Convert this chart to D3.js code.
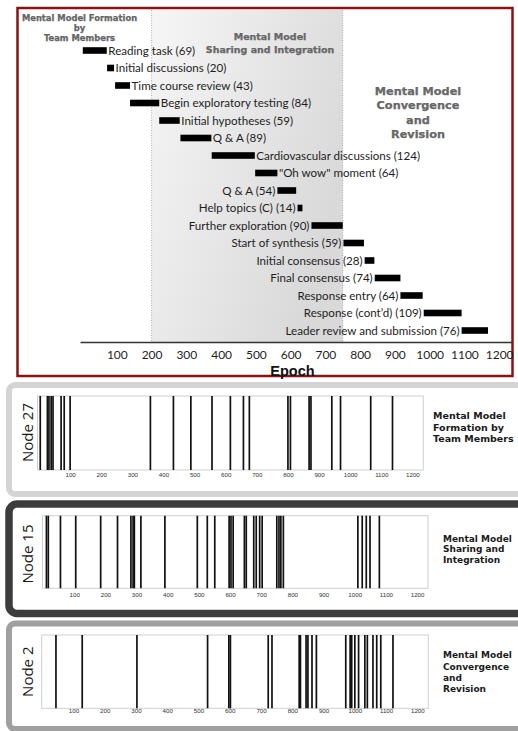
<!DOCTYPE html>
<html><head><meta charset="utf-8">
<script src="https://cdn.jsdelivr.net/npm/d3@7"></script>
<style>body{margin:0;background:#fff}svg{display:block}</style>
</head><body><svg id="c" width="518" height="731"></svg>
<script>
// ---------- DATA ----------
const activities = ["Reading task","Initial discussions","Time course review","Begin exploratory testing","Initial hypotheses","Q & A","Cardiovascular discussions","\"Oh wow\" moment","Q & A","Help topics (C)","Further exploration","Start of synthesis","Initial consensus","Final consensus","Response entry","Response (cont’d)","Leader review and submission"];
const starts    = [2,72,95,138,222,283,373,498,562,620,660,752,813,842,916,983,1092];
const durations = [69,20,43,84,59,89,124,64,54,14,90,59,28,74,64,109,76];
const epochTicks = [100,200,300,400,500,600,700,800,900,1000,1100,1200];
const phaseBounds = [200,750];
const phaseTitles = [
  ["Mental Model Formation","by","Team Members"],
  ["Mental Model","Sharing and Integration"],
  ["Mental Model","Convergence","and","Revision"]
];
const nodeNames = ["Node 27","Node 15","Node 2"];
const node27 = [4,27,32,39,45,71,81,100,358,432,488,556,615,657,676,800,808,868,874,941,969,1066,1136];
const node15 = [11,17,56,105,185,239,282,289,293,314,391,495,527,551,597,603,610,646,652,676,684,695,703,750,757,763,771,1010,1024,1037,1049,1079];
const node2  = [44,128,303,529,597,602,723,735,822,826,844,850,863,877,971,985,990,1000,1012,1032,1040,1058,1070,1083,1122];
const nodePhaseText = [
  ["Mental Model","Formation by","Team Members"],
  ["Mental Model","Sharing and","Integration"],
  ["Mental Model","Convergence","and","Revision"]
];

// ---------- TOP CHART ----------
const svg = d3.select("#c");
const defs = svg.append("defs");
const grad = defs.append("linearGradient").attr("id","shade").attr("x1",0).attr("y1",0).attr("x2",1).attr("y2",0.5);
grad.append("stop").attr("offset","0%").attr("stop-color","#f6f6f6");
grad.append("stop").attr("offset","100%").attr("stop-color","#d9d9d9");

svg.append("rect").attr("x",17.5).attr("y",8).attr("width",495).attr("height",368)
  .attr("fill","#fff").attr("stroke","#8a1212").attr("stroke-width",2.5);

const axisY = 342;
const x = d3.scaleLinear().domain([-6,1237]).range([80,512]);
const y = d3.scalePoint().domain(d3.range(activities.length)).range([50.5,330.5]);

svg.append("rect").attr("x",x(phaseBounds[0])).attr("y",10)
  .attr("width",x(phaseBounds[1])-x(phaseBounds[0])).attr("height",axisY-10)
  .attr("fill","url(#shade)");
phaseBounds.forEach(b=>{
  svg.append("line").attr("x1",x(b)).attr("x2",x(b)).attr("y1",10).attr("y2",axisY)
    .attr("stroke","#9a9a9a").attr("stroke-width",0.8).attr("stroke-dasharray","1,1.5");
});

// phase titles
const titleSpec = [
  {cx:79.5, y0:20.5, dy:10.4, fs:8.4},
  {cx:270, y0:40, dy:13, fs:9.5},
  {cx:418, y0:95, dy:14.4, fs:11.3}
];
phaseTitles.forEach((lines,i)=>{
  const s = titleSpec[i];
  svg.append("g").selectAll("text").data(lines).join("text")
    .attr("x",s.cx).attr("y",(d,j)=>s.y0+j*s.dy)
    .attr("text-anchor","middle").attr("font-family","DejaVu Sans").attr("font-weight","bold")
    .attr("font-size",s.fs).attr("fill","#6a6a6a").attr("stroke","#555").attr("stroke-width",0.25)
    .text(d=>d);
});

// bars
const rows = activities.map((a,i)=>({name:a,start:starts[i],dur:durations[i],i}));
svg.append("g").selectAll("rect").data(rows).join("rect")
  .attr("x",d=>x(d.start)).attr("y",d=>y(d.i)-3.3)
  .attr("width",d=>x(d.start+d.dur)-x(d.start)).attr("height",6.6)
  .attr("fill","#000");
svg.append("g").selectAll("text").data(rows).join("text")
  .attr("x",d=>d.start<560 ? x(d.start+d.dur)+1.5 : x(d.start)-2)
  .attr("y",d=>y(d.i)).attr("dy","0.36em")
  .attr("text-anchor",d=>d.start<560?"start":"end")
  .attr("font-family","Lato").attr("font-size",11.6).attr("fill","#1e1e1e")
  .text(d=>`${d.name} (${d.dur})`);

// axis
const ax = svg.append("g").attr("transform",`translate(0,${axisY})`)
  .call(d3.axisBottom(x).tickValues(epochTicks).tickFormat(d3.format("d")).tickSize(0).tickPadding(8));
ax.select(".domain").attr("stroke","#333").attr("stroke-width",1.3);
ax.selectAll("text").attr("font-family","Lato").attr("font-size",12).attr("fill","#1e1e1e");
svg.append("text").attr("x",292.5).attr("y",375.5).attr("text-anchor","middle")
  .attr("font-family","Liberation Sans").attr("font-weight","bold").attr("font-size",14.5)
  .attr("fill","#111").text("Epoch");

// ---------- NODE PANELS ----------
const panels = [
  {data:node27, frame:{y:385,h:109,sw:6,col:"#d4d4d4",rx:6}, box:{x0:37.5,x1:423.3,y0:396,y1:470}, lab:479, nodeY:432.5, tx:433, ty:419, tdy:11.7, tfs:9.5},
  {data:node15, frame:{y:504,h:109.5,sw:7.5,col:"#3c3c3c",rx:8}, box:{x0:42.5,x1:428,y0:515.7,y1:588.3}, lab:599, nodeY:554, tx:443, ty:541.7, tdy:10.5, tfs:9},
  {data:node2, frame:{y:623.5,h:105.5,sw:6,col:"#a0a0a0",rx:6}, box:{x0:41.7,x1:428.3,y0:635,y1:708.3}, lab:714.5, nodeY:671.7, tx:443, ty:658.3, tdy:11.3, tfs:9}
];
panels.forEach((p,k)=>{
  const g = svg.append("g");
  g.append("rect").attr("x",9).attr("y",p.frame.y).attr("width",520).attr("height",p.frame.h)
    .attr("rx",p.frame.rx).attr("fill","#fff").attr("stroke",p.frame.col).attr("stroke-width",p.frame.sw);
  const sx = d3.scaleLinear().domain([0,1235]).range([p.box.x0+ (k===0?1.5:0.5), p.box.x1]);
  g.append("rect").attr("x",p.box.x0).attr("y",p.box.y0).attr("width",p.box.x1-p.box.x0)
    .attr("height",p.box.y1-p.box.y0).attr("fill","#fff").attr("stroke","#d0d0d0").attr("stroke-width",1);
  g.append("g").selectAll("line").data(p.data).join("line")
    .attr("x1",d=>sx(d)).attr("x2",d=>sx(d)).attr("y1",p.box.y0).attr("y2",p.box.y1)
    .attr("stroke","#111").attr("stroke-width",1.7);
  const a = g.append("g").attr("transform",`translate(0,${p.lab-6})`)
    .call(d3.axisBottom(sx).tickValues(epochTicks).tickFormat(d3.format("d")).tickSize(0).tickPadding(0));
  a.select(".domain").remove();
  a.selectAll("text").attr("dy","0.71em").attr("font-family","Liberation Sans").attr("font-size",6.2).attr("fill","#333");
  g.append("text").attr("transform",`translate(33,${p.nodeY}) rotate(-90)`)
    .attr("text-anchor","middle").attr("font-family","Open Sans").attr("font-size",15).attr("fill","#1a1a1a")
    .text(nodeNames[k]);
  g.append("g").selectAll("text").data(nodePhaseText[k]).join("text")
    .attr("x",p.tx).attr("y",(d,j)=>p.ty+j*p.tdy)
    .attr("font-family","DejaVu Sans").attr("font-weight","bold").attr("font-size",p.tfs).attr("fill","#1a1a1a")
    .text(d=>d);
});
</script></body></html>
